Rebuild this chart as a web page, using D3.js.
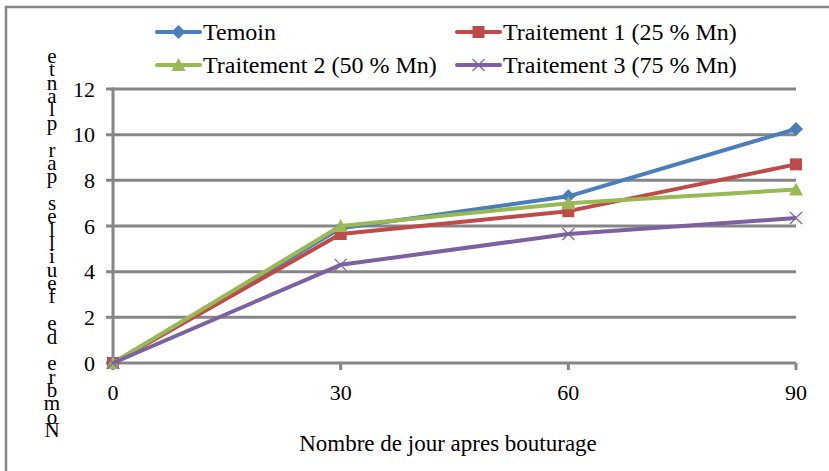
<!DOCTYPE html>
<html>
<head>
<meta charset="utf-8">
<script src="https://cdn.jsdelivr.net/npm/d3@7"></script>
<style>
  body { margin: 0; background: #fff; }
  svg text { font-family: "Liberation Serif", "DejaVu Serif", "Times New Roman", Times, serif; fill: #000; }
</style>
</head>
<body>
<script>
var w = 829;
var h = 471;

// Data
var days = [0, 30, 60, 90];
var yTicks = [0, 2, 4, 6, 8, 10, 12];
var seriesNames = ["Temoin", "Traitement 1 (25 % Mn)", "Traitement 2 (50 % Mn)", "Traitement 3 (75 % Mn)"];
var temoin = [0, 5.9, 7.3, 10.25];
var traitement1 = [0, 5.65, 6.65, 8.7];
var traitement2 = [0, 6.0, 7.0, 7.6];
var traitement3 = [0, 4.3, 5.65, 6.35];
var colors = ["#4a7ebb", "#be4b48", "#98b954", "#7d60a0"];
var markers = ["diamond", "square", "triangle", "cross"];

var allSeries = [temoin, traitement1, traitement2, traitement3];
var serif = "'Liberation Serif', 'DejaVu Serif', 'Times New Roman', serif";

var svg = d3.select("body")
    .append("svg")
    .attr("width", w)
    .attr("height", h)
    .attr("font-family", serif);

// outer frame (only top and left edges are in view)
svg.append("rect")
    .attr("x", 6)
    .attr("y", 7)
    .attr("width", w + 20)
    .attr("height", h + 20)
    .attr("fill", "none")
    .attr("stroke", "#868686")
    .attr("stroke-width", 2.5);

var x = d3.scaleLinear().domain([0, 90]).range([113, 796]);
var y = d3.scaleLinear().domain([0, 12]).range([363, 89]);

var grey = "#868686";

// horizontal gridlines (with outer tick stubs)
svg.selectAll("line.grid")
    .data(yTicks)
    .enter().append("line")
    .attr("class", "grid")
    .attr("x1", 106)
    .attr("x2", x(90))
    .attr("y1", function(d) { return y(d); })
    .attr("y2", function(d) { return y(d); })
    .attr("stroke", grey)
    .attr("stroke-width", 3);

// vertical axis line
svg.append("line")
    .attr("x1", x(0)).attr("x2", x(0))
    .attr("y1", y(12) - 1.5).attr("y2", y(0) + 7)
    .attr("stroke", grey)
    .attr("stroke-width", 3);

// x tick marks
svg.selectAll("line.xtick")
    .data(days)
    .enter().append("line")
    .attr("class", "xtick")
    .attr("x1", function(d) { return x(d); })
    .attr("x2", function(d) { return x(d); })
    .attr("y1", y(0))
    .attr("y2", y(0) + 7)
    .attr("stroke", grey)
    .attr("stroke-width", 3);

// y tick labels
svg.selectAll("text.ylab")
    .data(yTicks)
    .enter().append("text")
    .attr("class", "ylab")
    .attr("x", 95)
    .attr("y", function(d) { return y(d); })
    .attr("dy", "0.35em")
    .attr("text-anchor", "end")
    .style("font-family", serif)
    .style("font-size", "22px")
    .text(function(d) { return d; });

// x tick labels
svg.selectAll("text.xlab")
    .data(days)
    .enter().append("text")
    .attr("class", "xlab")
    .attr("x", function(d) { return x(d); })
    .attr("y", 400)
    .attr("text-anchor", "middle")
    .style("font-family", serif)
    .style("font-size", "22px")
    .text(function(d) { return d; });

// x axis title
svg.append("text")
    .attr("x", 448)
    .attr("y", 451)
    .attr("text-anchor", "middle")
    .style("font-family", serif)
    .style("font-size", "23px")
    .text("Nombre de jour apres bouturage");

// y axis title, stacked letters from bottom to top
var yTitle = "Nombre de feuilles par plante".split("");
var stepY = (437 - 63) / (yTitle.length - 1);
svg.selectAll("text.ytitle")
    .data(yTitle)
    .enter().append("text")
    .attr("class", "ytitle")
    .attr("x", 52)
    .attr("y", function(d, i) { return 437 - i * stepY; })
    .attr("text-anchor", "middle")
    .style("font-family", serif)
    .style("font-size", "21px")
    .text(function(d) { return d; });

function drawMarker(g, type, color, cx, cy) {
    if (type === "diamond") {
        g.append("path")
            .attr("d", "M" + cx + "," + (cy - 7) + "L" + (cx + 7) + "," + cy + "L" + cx + "," + (cy + 7) + "L" + (cx - 7) + "," + cy + "Z")
            .attr("fill", color);
    } else if (type === "square") {
        g.append("rect")
            .attr("x", cx - 6).attr("y", cy - 6)
            .attr("width", 12).attr("height", 12)
            .attr("fill", color);
    } else if (type === "triangle") {
        g.append("path")
            .attr("d", "M" + cx + "," + (cy - 7) + "L" + (cx + 7) + "," + (cy + 6) + "L" + (cx - 7) + "," + (cy + 6) + "Z")
            .attr("fill", color);
    } else {
        g.append("path")
            .attr("d", "M" + (cx - 6) + "," + (cy - 6) + "L" + (cx + 6) + "," + (cy + 6) + "M" + (cx + 6) + "," + (cy - 6) + "L" + (cx - 6) + "," + (cy + 6))
            .attr("stroke", color)
            .attr("stroke-width", 1.2)
            .attr("fill", "none");
    }
}

var line = d3.line()
    .x(function(d, i) { return x(days[i]); })
    .y(function(d) { return y(d); });

// series lines and markers
allSeries.forEach(function(values, s) {
    var g = svg.append("g").attr("class", "series");
    g.append("path")
        .attr("d", line(values))
        .attr("fill", "none")
        .attr("stroke", colors[s])
        .attr("stroke-width", 4)
        .attr("stroke-linejoin", "round");
    values.forEach(function(v, i) {
        drawMarker(g, markers[s], colors[s], x(days[i]), y(v));
    });
});

// legend
var legendPos = [[157, 32], [457, 32], [157, 65], [457, 65]];
seriesNames.forEach(function(name, s) {
    var lx = legendPos[s][0], ly = legendPos[s][1];
    var g = svg.append("g").attr("class", "legend");
    g.append("line")
        .attr("x1", lx).attr("x2", lx + 43)
        .attr("y1", ly).attr("y2", ly)
        .attr("stroke", colors[s])
        .attr("stroke-width", 4)
        .attr("stroke-linecap", "round");
    drawMarker(g, markers[s], colors[s], lx + 21.5, ly);
    g.append("text")
        .attr("x", lx + 46)
        .attr("y", ly)
        .attr("dy", "0.35em")
        .style("font-family", serif)
        .style("font-size", "24px")
        .text(name);
});
</script>
</body>
</html>
